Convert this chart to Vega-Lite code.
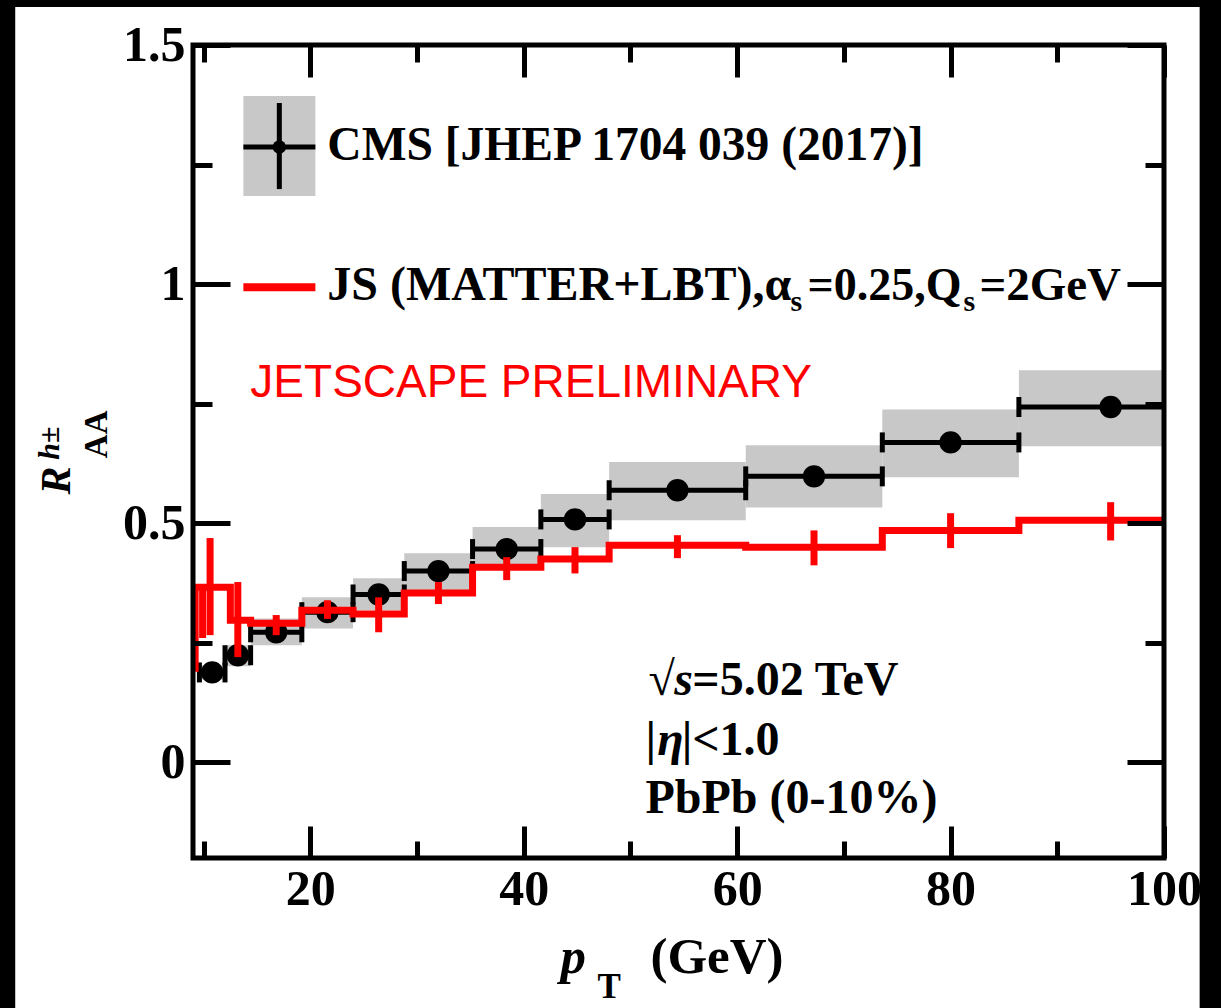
{
  "$schema": "https://vega.github.io/schema/vega-lite/v6.json",
  "width": 971,
  "height": 813,
  "autosize": {"type": "none"},
  "padding": {"left": 193, "top": 45, "right": 57, "bottom": 150},
  "background": "black",
  "config": {
    "view": {"stroke": null},
    "axis": {"zindex": 2, "domain": false, "grid": false, "tickColor": "black", "tickWidth": 5, "labelFont": "Liberation Serif", "labelFontWeight": "bold", "labelFontSize": 50, "labelColor": "black", "labelFlush": false, "labelOverlap": false}
  },
  "data": {"values": [{}]},
  "datasets": {
    "cms": [
      {"lo": 9.6, "hi": 12.0, "c": 10.8, "val": 0.188, "sysLo": 0.173, "sysHi": 0.203},
      {"lo": 12.0, "hi": 14.4, "c": 13.2, "val": 0.224, "sysLo": 0.201, "sysHi": 0.245},
      {"lo": 14.4, "hi": 19.2, "c": 16.8, "val": 0.272, "sysLo": 0.245, "sysHi": 0.301},
      {"lo": 19.2, "hi": 24.0, "c": 21.6, "val": 0.314, "sysLo": 0.280, "sysHi": 0.345},
      {"lo": 24.0, "hi": 28.8, "c": 26.4, "val": 0.351, "sysLo": 0.318, "sysHi": 0.385},
      {"lo": 28.8, "hi": 35.2, "c": 32.0, "val": 0.400, "sysLo": 0.360, "sysHi": 0.437},
      {"lo": 35.2, "hi": 41.6, "c": 38.4, "val": 0.446, "sysLo": 0.406, "sysHi": 0.492},
      {"lo": 41.6, "hi": 48.0, "c": 44.8, "val": 0.508, "sysLo": 0.450, "sysHi": 0.561},
      {"lo": 48.0, "hi": 60.8, "c": 54.4, "val": 0.569, "sysLo": 0.506, "sysHi": 0.628},
      {"lo": 60.8, "hi": 73.6, "c": 67.2, "val": 0.598, "sysLo": 0.533, "sysHi": 0.663},
      {"lo": 73.6, "hi": 86.4, "c": 80.0, "val": 0.669, "sysLo": 0.596, "sysHi": 0.738},
      {"lo": 86.4, "hi": 103.6, "c": 95.0, "val": 0.743, "sysLo": 0.661, "sysHi": 0.820}
    ],
    "jsstep": [
      {"edge": 9.0, "val": 0.197},
      {"edge": 9.2, "val": 0.366},
      {"edge": 12.5, "val": 0.297},
      {"edge": 14.4, "val": 0.291},
      {"edge": 19.2, "val": 0.318},
      {"edge": 24.0, "val": 0.310},
      {"edge": 28.8, "val": 0.354},
      {"edge": 35.2, "val": 0.408},
      {"edge": 41.6, "val": 0.425},
      {"edge": 48.0, "val": 0.454},
      {"edge": 60.8, "val": 0.450},
      {"edge": 73.6, "val": 0.485},
      {"edge": 86.4, "val": 0.506},
      {"edge": 100.0, "val": 0.506}
    ],
    "jserr": [
      {"c": 9.9, "lo": 0.260, "hi": 0.366},
      {"c": 10.6, "lo": 0.266, "hi": 0.469},
      {"c": 13.2, "lo": 0.220, "hi": 0.377},
      {"c": 16.8, "lo": 0.266, "hi": 0.308},
      {"c": 21.6, "lo": 0.300, "hi": 0.339},
      {"c": 26.4, "lo": 0.272, "hi": 0.345},
      {"c": 32.0, "lo": 0.331, "hi": 0.377},
      {"c": 38.4, "lo": 0.381, "hi": 0.429},
      {"c": 44.8, "lo": 0.395, "hi": 0.450},
      {"c": 54.4, "lo": 0.427, "hi": 0.475},
      {"c": 67.2, "lo": 0.412, "hi": 0.485},
      {"c": 80.0, "lo": 0.448, "hi": 0.521},
      {"c": 95.0, "lo": 0.464, "hi": 0.544}
    ]
  },
  "resolve": {"axis": {"x": "independent", "y": "independent"}},
  "layer": [
    {
      "mark": {"type": "rect", "fill": "white", "clip": false},
      "encoding": {
        "x": {"datum": -7.66, "type": "quantitative", "scale": {"domain": [9, 100], "nice": false, "zero": false}, "axis": null},
        "x2": {"datum": 103.34},
        "y": {"datum": 1.5795, "type": "quantitative", "scale": {"domain": [-0.2, 1.5], "nice": false, "zero": false}, "axis": null},
        "y2": {"datum": -0.52}
      }
    },
    {
      "data": {"name": "cms"},
      "mark": {"type": "rect", "fill": "#c8c8c8", "clip": true},
      "encoding": {
        "x": {"field": "lo", "type": "quantitative", "scale": {"domain": [9, 100], "nice": false, "zero": false},
              "axis": {"orient": "bottom", "zindex": 2, "values": [20, 40, 60, 80, 100], "tickSize": -32, "labelPadding": 38, "title": null}},
        "x2": {"field": "hi"},
        "y": {"field": "sysLo", "type": "quantitative", "scale": {"domain": [-0.2, 1.5], "nice": false, "zero": false},
              "axis": {"orient": "left", "zindex": 2, "values": [0, 0.5, 1, 1.5], "tickSize": -37, "labelPadding": 45, "labelExpr": "'' + datum.value", "title": null}},
        "y2": {"field": "sysHi"}
      }
    },
    {
      "data": {"name": "cms"},
      "mark": {"type": "rule", "color": "black", "strokeWidth": 5, "clip": true},
      "encoding": {
        "x": {"field": "lo", "type": "quantitative",
              "axis": {"orient": "bottom", "zindex": 2, "values": [10, 30, 50, 70, 90], "tickSize": -17, "labels": false, "title": null}},
        "x2": {"field": "hi"},
        "y": {"field": "val", "type": "quantitative",
              "axis": {"orient": "left", "zindex": 2, "values": [0.25, 0.75, 1.25], "tickSize": -19, "labels": false, "title": null}}
      }
    },
    {
      "data": {"name": "cms"},
      "mark": {"type": "tick", "orient": "vertical", "color": "black", "opacity": 1, "size": 20, "thickness": 5, "clip": true},
      "encoding": {
        "x": {"field": "lo", "type": "quantitative",
              "axis": {"orient": "top", "zindex": 2, "values": [20, 40, 60, 80, 100], "tickSize": -32, "labels": false, "title": null}},
        "y": {"field": "val", "type": "quantitative",
              "axis": {"orient": "right", "zindex": 2, "values": [0, 0.5, 1, 1.5], "tickSize": -37, "labels": false, "title": null}}
      }
    },
    {
      "data": {"name": "cms"},
      "mark": {"type": "tick", "orient": "vertical", "color": "black", "opacity": 1, "size": 20, "thickness": 5, "clip": true},
      "encoding": {
        "x": {"field": "hi", "type": "quantitative",
              "axis": {"orient": "top", "zindex": 2, "values": [10, 30, 50, 70, 90], "tickSize": -17, "labels": false, "title": null}},
        "y": {"field": "val", "type": "quantitative",
              "axis": {"orient": "right", "zindex": 2, "values": [0.25, 0.75, 1.25], "tickSize": -19, "labels": false, "title": null}}
      }
    },
    {
      "data": {"name": "cms"},
      "mark": {"type": "circle", "color": "black", "opacity": 1, "size": 500},
      "encoding": {
        "x": {"field": "c", "type": "quantitative", "axis": null},
        "y": {"field": "val", "type": "quantitative", "axis": null}
      }
    },
    {
      "data": {"name": "jsstep"},
      "mark": {"type": "line", "color": "#ff0000", "strokeWidth": 7, "interpolate": "step-after", "clip": true},
      "encoding": {
        "x": {"field": "edge", "type": "quantitative", "axis": null},
        "y": {"field": "val", "type": "quantitative", "axis": null}
      }
    },
    {
      "data": {"name": "jserr"},
      "mark": {"type": "rule", "color": "#ff0000", "strokeWidth": 7, "clip": true},
      "encoding": {
        "x": {"field": "c", "type": "quantitative", "axis": null},
        "y": {"field": "lo", "type": "quantitative", "axis": null},
        "y2": {"field": "hi"}
      }
    },
    {
      "mark": {"type": "rect", "fill": "#c8c8c8", "clip": false},
      "encoding": {
        "x": {"datum": 13.72, "type": "quantitative", "axis": null},
        "x2": {"datum": 20.47},
        "y": {"datum": 1.3933, "type": "quantitative", "axis": null},
        "y2": {"datum": 1.1841}
      }
    },
    {
      "mark": {"type": "rule", "color": "black", "strokeWidth": 5, "clip": false},
      "encoding": {
        "x": {"datum": 13.72, "type": "quantitative", "axis": null},
        "x2": {"datum": 20.47},
        "y": {"datum": 1.2866, "type": "quantitative", "axis": null}
      }
    },
    {
      "mark": {"type": "rule", "color": "black", "strokeWidth": 5, "clip": false},
      "encoding": {
        "x": {"datum": 17.09, "type": "quantitative", "axis": null},
        "y": {"datum": 1.1987, "type": "quantitative", "axis": null},
        "y2": {"datum": 1.3787}
      }
    },
    {
      "mark": {"type": "circle", "color": "black", "opacity": 1, "size": 180, "clip": false},
      "encoding": {
        "x": {"datum": 17.09, "type": "quantitative", "axis": null},
        "y": {"datum": 1.2866, "type": "quantitative", "axis": null}
      }
    },
    {
      "mark": {"type": "rule", "color": "#ff0000", "strokeWidth": 8, "clip": false},
      "encoding": {
        "x": {"datum": 13.72, "type": "quantitative", "axis": null},
        "x2": {"datum": 20.47},
        "y": {"datum": 0.9937, "type": "quantitative", "axis": null}
      }
    },
    {
      "mark": {"type": "text", "text": "CMS [JHEP 1704 039 (2017)]", "font": "Liberation Serif", "fontWeight": "bold", "fontSize": 47.5, "align": "left", "baseline": "alphabetic", "color": "black", "clip": false},
      "encoding": {
        "x": {"datum": 21.59, "type": "quantitative", "axis": null},
        "y": {"datum": 1.2594, "type": "quantitative", "axis": null}
      }
    },
    {
      "mark": {"type": "text", "text": "JS (MATTER+LBT),α", "font": "Liberation Serif", "fontWeight": "bold", "fontSize": 48, "align": "left", "baseline": "alphabetic", "color": "black", "clip": false},
      "encoding": {
        "x": {"datum": 21.59, "type": "quantitative", "axis": null},
        "y": {"datum": 0.9665, "type": "quantitative", "axis": null}
      }
    },
    {
      "mark": {"type": "text", "text": "s", "font": "Liberation Serif", "fontWeight": "bold", "fontSize": 30, "align": "left", "baseline": "alphabetic", "color": "black", "clip": false},
      "encoding": {
        "x": {"datum": 65.0, "type": "quantitative", "axis": null},
        "y": {"datum": 0.9435, "type": "quantitative", "axis": null}
      }
    },
    {
      "mark": {"type": "text", "text": "=0.25,Q", "font": "Liberation Serif", "fontWeight": "bold", "fontSize": 46, "align": "left", "baseline": "alphabetic", "color": "black", "clip": false},
      "encoding": {
        "x": {"datum": 66.6, "type": "quantitative", "axis": null},
        "y": {"datum": 0.9665, "type": "quantitative", "axis": null}
      }
    },
    {
      "mark": {"type": "text", "text": "s", "font": "Liberation Serif", "fontWeight": "bold", "fontSize": 30, "align": "left", "baseline": "alphabetic", "color": "black", "clip": false},
      "encoding": {
        "x": {"datum": 81.2, "type": "quantitative", "axis": null},
        "y": {"datum": 0.9435, "type": "quantitative", "axis": null}
      }
    },
    {
      "mark": {"type": "text", "text": "=2GeV", "font": "Liberation Serif", "fontWeight": "bold", "fontSize": 47, "align": "left", "baseline": "alphabetic", "color": "black", "clip": false},
      "encoding": {
        "x": {"datum": 82.7, "type": "quantitative", "axis": null},
        "y": {"datum": 0.9665, "type": "quantitative", "axis": null}
      }
    },
    {
      "mark": {"type": "text", "text": "JETSCAPE PRELIMINARY", "font": "Liberation Sans", "fontSize": 46, "align": "left", "baseline": "alphabetic", "color": "#ff0000", "clip": false},
      "encoding": {
        "x": {"datum": 14.375, "type": "quantitative", "axis": null},
        "y": {"datum": 0.7636, "type": "quantitative", "axis": null}
      }
    },
    {
      "mark": {"type": "text", "text": "√", "font": "Liberation Serif", "fontWeight": "bold", "fontSize": 48, "align": "left", "baseline": "alphabetic", "color": "black", "clip": false},
      "encoding": {
        "x": {"datum": 51.69, "type": "quantitative", "axis": null},
        "y": {"datum": 0.1402, "type": "quantitative", "axis": null}
      }
    },
    {
      "mark": {"type": "text", "text": "s", "font": "Liberation Serif", "fontWeight": "bold", "fontStyle": "italic", "fontSize": 48, "align": "left", "baseline": "alphabetic", "color": "black", "clip": false},
      "encoding": {
        "x": {"datum": 54.1, "type": "quantitative", "axis": null},
        "y": {"datum": 0.1402, "type": "quantitative", "axis": null}
      }
    },
    {
      "mark": {"type": "text", "text": "=5.02 TeV", "font": "Liberation Serif", "fontWeight": "bold", "fontSize": 48, "align": "left", "baseline": "alphabetic", "color": "black", "clip": false},
      "encoding": {
        "x": {"datum": 55.8, "type": "quantitative", "axis": null},
        "y": {"datum": 0.1402, "type": "quantitative", "axis": null}
      }
    },
    {
      "mark": {"type": "text", "text": "|", "font": "Liberation Serif", "fontWeight": "bold", "fontSize": 48, "align": "left", "baseline": "alphabetic", "color": "black", "clip": false},
      "encoding": {
        "x": {"datum": 51.41, "type": "quantitative", "axis": null},
        "y": {"datum": 0.0146, "type": "quantitative", "axis": null}
      }
    },
    {
      "mark": {"type": "text", "text": "η", "font": "Liberation Serif", "fontWeight": "bold", "fontStyle": "italic", "fontSize": 48, "align": "left", "baseline": "alphabetic", "color": "black", "clip": false},
      "encoding": {
        "x": {"datum": 52.5, "type": "quantitative", "axis": null},
        "y": {"datum": 0.0146, "type": "quantitative", "axis": null}
      }
    },
    {
      "mark": {"type": "text", "text": "|<1.0", "font": "Liberation Serif", "fontWeight": "bold", "fontSize": 48, "align": "left", "baseline": "alphabetic", "color": "black", "clip": false},
      "encoding": {
        "x": {"datum": 54.8, "type": "quantitative", "axis": null},
        "y": {"datum": 0.0146, "type": "quantitative", "axis": null}
      }
    },
    {
      "mark": {"type": "text", "text": "PbPb (0-10%)", "font": "Liberation Serif", "fontWeight": "bold", "fontSize": 48, "align": "left", "baseline": "alphabetic", "color": "black", "clip": false},
      "encoding": {
        "x": {"datum": 51.41, "type": "quantitative", "axis": null},
        "y": {"datum": -0.1067, "type": "quantitative", "axis": null}
      }
    },
    {
      "mark": {"type": "text", "text": "p", "font": "Liberation Serif", "fontWeight": "bold", "fontStyle": "italic", "fontSize": 51, "align": "left", "baseline": "alphabetic", "color": "black", "clip": false},
      "encoding": {
        "x": {"datum": 43.44, "type": "quantitative", "axis": null},
        "y": {"datum": -0.4414, "type": "quantitative", "axis": null}
      }
    },
    {
      "mark": {"type": "text", "text": "T", "font": "Liberation Serif", "fontWeight": "bold", "fontSize": 35, "align": "left", "baseline": "alphabetic", "color": "black", "clip": false},
      "encoding": {
        "x": {"datum": 46.9, "type": "quantitative", "axis": null},
        "y": {"datum": -0.4937, "type": "quantitative", "axis": null}
      }
    },
    {
      "mark": {"type": "text", "text": "(GeV)", "font": "Liberation Serif", "fontWeight": "bold", "fontSize": 51, "align": "left", "baseline": "alphabetic", "color": "black", "clip": false},
      "encoding": {
        "x": {"datum": 51.87, "type": "quantitative", "axis": null},
        "y": {"datum": -0.4414, "type": "quantitative", "axis": null}
      }
    },
    {
      "mark": {"type": "text", "text": "R", "font": "Liberation Serif", "fontWeight": "bold", "fontStyle": "italic", "fontSize": 42, "angle": 270, "align": "left", "baseline": "alphabetic", "color": "black", "clip": false},
      "encoding": {
        "x": {"datum": -2.5, "type": "quantitative", "axis": null},
        "y": {"datum": 0.56, "type": "quantitative", "axis": null}
      }
    },
    {
      "mark": {"type": "text", "text": "h±", "font": "Liberation Serif", "fontWeight": "bold", "fontStyle": "italic", "fontSize": 30, "angle": 270, "align": "left", "baseline": "alphabetic", "color": "black", "clip": false},
      "encoding": {
        "x": {"datum": -3.6, "type": "quantitative", "axis": null},
        "y": {"datum": 0.633, "type": "quantitative", "axis": null}
      }
    },
    {
      "mark": {"type": "text", "text": "AA", "font": "Liberation Serif", "fontWeight": "bold", "fontSize": 33, "angle": 270, "align": "left", "baseline": "alphabetic", "color": "black", "clip": false},
      "encoding": {
        "x": {"datum": 0.97, "type": "quantitative", "axis": null},
        "y": {"datum": 0.636, "type": "quantitative", "axis": null}
      }
    },
    {
      "mark": {"type": "rect", "fillOpacity": 0, "stroke": "black", "strokeWidth": 5, "clip": false},
      "encoding": {
        "x": {"datum": 9, "type": "quantitative", "axis": null},
        "x2": {"datum": 100},
        "y": {"datum": -0.2, "type": "quantitative", "axis": null},
        "y2": {"datum": 1.5}
      }
    }
  ]
}
